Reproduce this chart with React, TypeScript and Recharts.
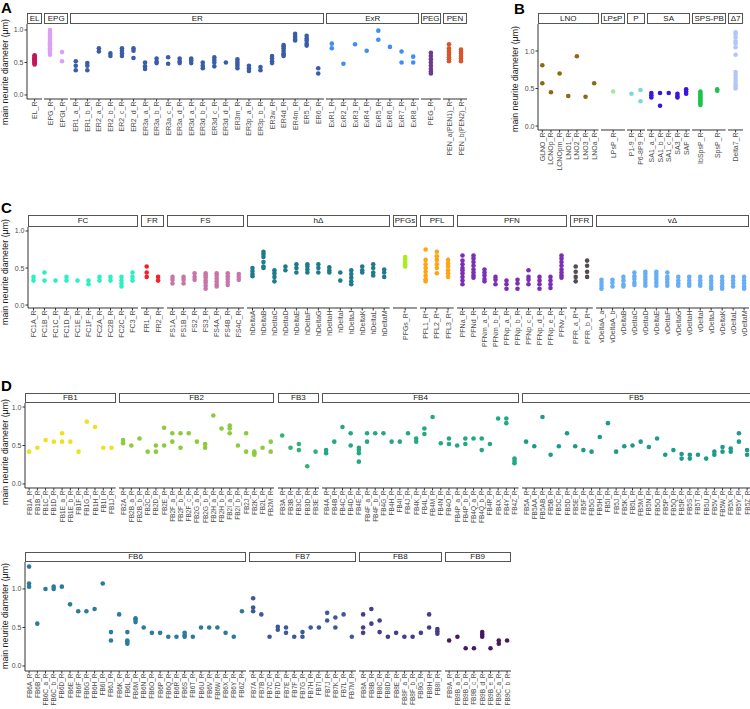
import React from 'react';
import { ScatterChart, Scatter, XAxis, YAxis } from 'recharts';

// ---------------- DATA ----------------
// Panel A
const EL_cats = ['EL_R'];
const EL_vals = [[0.47, 0.49, 0.5, 0.52, 0.53, 0.54, 0.55, 0.56, 0.57, 0.58, 0.6, 0.61]];
const EPG_cats = ['EPG_R', 'EPGt_R'];
const EPG_vals = [[0.62, 0.65, 0.68, 0.7, 0.72, 0.75, 0.78, 0.8, 0.82, 0.85, 0.88, 0.9, 0.93, 0.96, 1.0], [0.66, 0.52]];
const ER_cats = ['ER1_a_R', 'ER1_b_R', 'ER2_a_R', 'ER2_b_R', 'ER2_c_R', 'ER2_d_R', 'ER3a_a_R', 'ER3a_b_R', 'ER3a_c_R', 'ER3a_d_R', 'ER3d_a_R', 'ER3d_b_R', 'ER3d_c_R', 'ER3d_d_R', 'ER3m_R', 'ER3p_a_R', 'ER3p_b_R', 'ER3w_R', 'ER4d_R', 'ER4m_R', 'ER5_R', 'ER6_R'];
const ER_vals = [[0.52, 0.45, 0.38], [0.49, 0.45, 0.38], [0.72, 0.67], [0.64, 0.6], [0.72, 0.68, 0.64, 0.6], [0.72, 0.68, 0.57], [0.5, 0.44, 0.4], [0.56, 0.51, 0.49], [0.58, 0.48], [0.56, 0.52, 0.49], [0.56, 0.53, 0.49], [0.5, 0.45, 0.41], [0.58, 0.54, 0.5, 0.44], [0.5], [0.55, 0.51, 0.48, 0.45, 0.41], [0.45, 0.41, 0.37], [0.43, 0.38], [0.6, 0.56, 0.52, 0.49], [0.77, 0.75, 0.72, 0.68, 0.64, 0.62, 0.6], [0.94, 0.9, 0.86, 0.84], [0.91, 0.87, 0.84, 0.79, 0.76], [0.41, 0.33]];
const ExR_cats = ['ExR1_R', 'ExR2_R', 'ExR3_R', 'ExR4_R', 'ExR5_R', 'ExR6_R', 'ExR7_R', 'ExR8_R'];
const ExR_vals = [[0.79, 0.72], [0.48], [0.78], [0.68], [0.99, 0.85], [0.74], [0.67, 0.5], [0.59, 0.5]];
const PEG_cats = ['PEG_R'];
const PEG_vals = [[0.65, 0.6, 0.55, 0.5, 0.45, 0.4, 0.36, 0.33]];
const PEN_cats = ['PEN_a(PEN1)_R', 'PEN_b(PEN2)_R'];
const PEN_vals = [[0.78, 0.72, 0.68, 0.65, 0.62, 0.58, 0.55, 0.52], [0.7, 0.67, 0.64, 0.6, 0.56, 0.52]];

// Panel B
const LNO_cats = ['GLNO_R', 'LCNOp_R', 'LCNOpm_R', 'LNO1_R', 'LNO2_R', 'LNO3_R', 'LNOa_R'];
const LNO_vals = [[0.81, 0.57], [0.45], [0.7], [0.4], [0.93], [0.39], [0.57]];
const LPsP_cats = ['LPsP_R'];
const LPsP_vals = [[0.46]];
const P_cats = ['P1-9_R', 'P6-8P9_R'];
const P_vals = [[0.43], [0.48, 0.33]];
const SA_cats = ['SA1_a_R', 'SA1_b_R', 'SA1_c_R', 'SA3_R', 'SAF_R'];
const SA_vals = [[0.44, 0.41, 0.38], [0.44, 0.27], [0.44], [0.43, 0.4, 0.38], [0.49, 0.46, 0.43]];
const SPSPB_cats = ['IbSpsP_R', 'SpsP_R'];
const SPSPB_vals = [[0.46, 0.44, 0.42, 0.4, 0.38, 0.36, 0.34, 0.32, 0.3, 0.28], [0.49, 0.47]];
const D7_cats = ['Delta7_R'];
const D7_vals = [[1.25, 1.22, 1.18, 1.13, 1.1, 1.05, 0.95, 0.72, 0.68, 0.64, 0.6, 0.56, 0.53, 0.5]];

// Panel C
const FC_cats = ['FC1A_R', 'FC1B_R', 'FC1C_R', 'FC1D_R', 'FC1E_R', 'FC1F_R', 'FC2A_R', 'FC2B_R', 'FC2C_R', 'FC3_R'];
const FC_vals = [[0.38, 0.33], [0.44, 0.33], [0.33], [0.38, 0.33], [0.33], [0.33, 0.28], [0.38, 0.33], [0.38, 0.33], [0.38, 0.33, 0.29, 0.25], [0.44, 0.38, 0.33]];
const FR_cats = ['FR1_R', 'FR2_R'];
const FR_vals = [[0.52, 0.44, 0.38], [0.38, 0.33]];
const FS_cats = ['FS1A_R', 'FS1B_R', 'FS2_R', 'FS3_R', 'FS4A_R', 'FS4B_R', 'FS4C_R'];
const FS_vals = [[0.38, 0.34, 0.29], [0.38, 0.34, 0.29], [0.43, 0.38, 0.34], [0.43, 0.4, 0.37, 0.33, 0.3, 0.26, 0.22], [0.43, 0.4, 0.36, 0.32, 0.28, 0.25], [0.43, 0.39, 0.35, 0.31, 0.27], [0.42, 0.38, 0.34]];
const hD_cats = ['hDeltaA', 'hDeltaB', 'hDeltaC', 'hDeltaD', 'hDeltaE', 'hDeltaF', 'hDeltaG', 'hDeltaH', 'hDeltaI', 'hDeltaJ', 'hDeltaK', 'hDeltaL', 'hDeltaM'];
const hD_vals = [[0.5, 0.46, 0.42, 0.39], [0.72, 0.69, 0.65, 0.58, 0.52, 0.5], [0.47, 0.43, 0.38, 0.32], [0.52, 0.47], [0.55, 0.5, 0.44], [0.55, 0.52, 0.48, 0.44], [0.55, 0.5, 0.44], [0.51, 0.47, 0.44], [0.44, 0.33], [0.47, 0.42, 0.37, 0.32, 0.28], [0.52, 0.47, 0.44], [0.55, 0.5, 0.44, 0.4], [0.48, 0.44, 0.38]];
const PFGs_cats = ['PFGs_R*'];
const PFGs_vals = [[0.65, 0.62, 0.58, 0.55, 0.52]];
const PFL_cats = ['PFL1_R*', 'PFL2_R*', 'PFL3_R*'];
const PFL_vals = [[0.75, 0.61, 0.55, 0.5, 0.45, 0.4, 0.35, 0.32], [0.72, 0.66, 0.61, 0.55, 0.5, 0.43], [0.61, 0.56, 0.52, 0.47, 0.43, 0.38]];
const PFN_cats = ['PFNa_R', 'PFNd_R', 'PFNm_a_R', 'PFNm_b_R', 'PFNp_a_R', 'PFNp_b_R', 'PFNp_c_R', 'PFNp_d_R', 'PFNp_e_R', 'PFNv_R'];
const PFN_vals = [[0.67, 0.6, 0.55, 0.5, 0.47, 0.43, 0.38, 0.33, 0.28], [0.67, 0.63, 0.58, 0.53, 0.48, 0.44, 0.4, 0.37], [0.48, 0.44, 0.4, 0.35, 0.32], [0.38, 0.34, 0.28], [0.33, 0.28, 0.22], [0.34, 0.29, 0.22], [0.47, 0.38, 0.34, 0.28], [0.38, 0.33, 0.28, 0.22], [0.38, 0.33, 0.28, 0.23], [0.67, 0.63, 0.58, 0.53, 0.48, 0.44, 0.4, 0.37]];
const PFR_cats = ['PFR_a_R*', 'PFR_b_R*'];
const PFR_vals = [[0.52, 0.45, 0.38, 0.32], [0.6, 0.53, 0.45, 0.38]];
const vD_cats = ['vDeltaA_a', 'vDeltaA_b', 'vDeltaB', 'vDeltaC', 'vDeltaD', 'vDeltaE', 'vDeltaF', 'vDeltaG', 'vDeltaH', 'vDeltaI', 'vDeltaJ', 'vDeltaK', 'vDeltaL', 'vDeltaM'];
const vD_vals = [[0.34, 0.3, 0.26, 0.22], [0.34, 0.3, 0.25], [0.38, 0.33, 0.28, 0.25], [0.44, 0.39, 0.35, 0.3, 0.27], [0.45, 0.42, 0.38, 0.34, 0.3, 0.26], [0.45, 0.42, 0.38, 0.34, 0.3, 0.26], [0.44, 0.38, 0.34, 0.3, 0.26], [0.38, 0.33, 0.29, 0.26], [0.38, 0.33, 0.29, 0.26], [0.38, 0.33, 0.29, 0.26], [0.38, 0.33, 0.29, 0.25, 0.22], [0.38, 0.33, 0.29, 0.25, 0.22], [0.38, 0.33, 0.29, 0.25], [0.38, 0.33, 0.29, 0.25, 0.22]];

// Panel D
const FB1_cats = ['FB1A_R', 'FB1B_R', 'FB1C_R', 'FB1D_R', 'FB1E_a_R', 'FB1E_b_R', 'FB1F_R', 'FB1G_R', 'FB1H_R', 'FB1I_R', 'FB1J_R'];
const FB1_vals = [[0.42], [0.47], [0.57], [0.55], [0.66, 0.55], [0.55], [0.42], [0.81], [0.74], [0.47], [0.47]];
const FB2_cats = ['FB2A_R', 'FB2B_a_R', 'FB2B_b_R', 'FB2C_R', 'FB2D_R', 'FB2E_R', 'FB2F_a_R', 'FB2F_b_R', 'FB2F_c_R', 'FB2G_a_R', 'FB2G_b_R', 'FB2H_a_R', 'FB2H_b_R', 'FB2I_a_R', 'FB2I_b_R', 'FB2J_R', 'FB2K_R', 'FB2L_R', 'FB2M_R'];
const FB2_vals = [[0.57, 0.53], [0.5], [0.59], [0.42], [0.5, 0.42], [0.73, 0.5], [0.66, 0.55], [0.66, 0.47], [0.66], [0.55], [0.52, 0.47], [0.89], [0.72], [0.76, 0.72, 0.66], [0.5], [0.66, 0.42], [0.42, 0.4, 0.38], [0.47], [0.55, 0.42]];
const FB3_cats = ['FB3A_R', 'FB3B_R', 'FB3C_R', 'FB3D_R', 'FB3E_R'];
const FB3_vals = [[0.63], [0.47], [0.52, 0.44], [0.23], [0.42]];
const FB4_cats = ['FB4A_R', 'FB4B_R', 'FB4C_R', 'FB4D_R', 'FB4E_R', 'FB4F_a_R', 'FB4F_b_R', 'FB4G_R', 'FB4H_R', 'FB4I_R', 'FB4J_R', 'FB4K_R', 'FB4L_R', 'FB4M_R', 'FB4N_R', 'FB4O_R', 'FB4P_a_R', 'FB4P_b_R', 'FB4Q_a_R', 'FB4Q_b_R', 'FB4R_R', 'FB4X_R', 'FB4Y_R', 'FB4Z_R'];
const FB4_vals = [[0.44, 0.4], [0.55], [0.74], [0.66, 0.5], [0.47, 0.44, 0.4, 0.29], [0.66, 0.55], [0.66], [0.66], [0.55], [0.55], [0.66], [0.59, 0.55], [0.72, 0.65], [0.87], [0.53], [0.59, 0.52], [0.5], [0.59, 0.52], [0.59], [0.59, 0.44], [0.52], [0.85], [0.85, 0.79], [0.33, 0.3, 0.27]];
const FB5_cats = ['FB5A_R', 'FB5AA_R', 'FB5AB_R', 'FB5B_R', 'FB5C_R', 'FB5D_R', 'FB5E_R', 'FB5F_R', 'FB5G_R', 'FB5H_R', 'FB5I_R', 'FB5J_R', 'FB5K_R', 'FB5L_R', 'FB5M_R', 'FB5N_R', 'FB5O_R', 'FB5P_R', 'FB5Q_R', 'FB5R_R', 'FB5S_R', 'FB5T_R', 'FB5U_R', 'FB5V_R', 'FB5W_R', 'FB5X_R', 'FB5Y_R', 'FB5Z_R'];
const FB5_vals = [[0.55], [0.49], [0.87], [0.38], [0.49], [0.66], [0.49], [0.44], [0.42], [0.61], [0.79], [0.42], [0.49], [0.5], [0.55], [0.48], [0.59], [0.38], [0.44], [0.39, 0.33], [0.38, 0.33], [0.38], [0.33], [0.42, 0.38], [0.48, 0.42], [0.46, 0.42], [0.66, 0.55], [0.44, 0.38]];
const FB6_cats = ['FB6A_R', 'FB6B_R', 'FB6C_a_R', 'FB6C_b_R', 'FB6D_R', 'FB6E_R', 'FB6F_R', 'FB6G_R', 'FB6H_R', 'FB6I_R', 'FB6J_R', 'FB6K_R', 'FB6L_R', 'FB6M_R', 'FB6N_R', 'FB6O_R', 'FB6P_R', 'FB6Q_R', 'FB6R_R', 'FB6S_R', 'FB6T_R', 'FB6U_R', 'FB6V_R', 'FB6W_R', 'FB6X_R', 'FB6Y_R', 'FB6Z_R'];
const FB6_vals = [[1.29, 1.07, 1.03], [0.55], [1.0], [1.03, 1.0], [1.03], [0.8], [0.71], [0.71], [0.74], [1.07], [0.44, 0.33], [0.67], [0.44, 0.33, 0.31, 0.29], [0.62, 0.6, 0.57], [0.5], [0.43], [0.43], [0.38], [0.38], [0.43, 0.4, 0.38], [0.38], [0.5], [0.5], [0.5], [0.43], [0.38], [0.71]];
const FB7_cats = ['FB7A_R', 'FB7B_R', 'FB7C_R', 'FB7D_R', 'FB7E_R', 'FB7F_R', 'FB7G_R', 'FB7H_R', 'FB7I_R', 'FB7J_R', 'FB7K_R', 'FB7L_R', 'FB7M_R'];
const FB7_vals = [[0.88, 0.76, 0.71], [0.67], [0.38], [0.51, 0.47], [0.5, 0.43], [0.38], [0.44, 0.38], [0.5], [0.5], [0.69, 0.59], [0.63, 0.5], [0.67], [0.38]];
const FB8_cats = ['FB8A_R', 'FB8B_R', 'FB8C_R', 'FB8D_R', 'FB8E_R', 'FB8F_a_R', 'FB8F_b_R', 'FB8G_R', 'FB8H_R', 'FB8I_R'];
const FB8_vals = [[0.67, 0.5, 0.43], [0.74, 0.55], [0.59, 0.44], [0.38], [0.43], [0.38], [0.38], [0.43], [0.67, 0.5], [0.48, 0.45, 0.42]];
const FB9_cats = ['FB9A_R', 'FB9B_a_R', 'FB9B_b_R', 'FB9B_c_R', 'FB9B_d_R', 'FB9B_e_R', 'FB9C_a_R', 'FB9C_b_R'];
const FB9_vals = [[0.33], [0.38], [0.23], [0.23], [0.44, 0.41, 0.38], [0.23], [0.33, 0.29], [0.33]];

const Y_TICKS = [0, 0.5, 1.0];

// ---------------- STYLE / LAYOUT ----------------
const FONT = '"Liberation Sans", Arial, Helvetica, sans-serif';
const Y_AXIS_W = 18;
const AXIS_COLOR = '#333333';
const TEXT_COLOR = '#4d4d4d';

type Facet = { name: string; cats: string[]; vals: number[][]; color: string };
type RowSpec = {
  key: string;
  letter?: string; letterX?: number; letterTop?: number;
  plotLeft: number; stripTop: number; stripH: number; plotH: number; labelH: number;
  k: number; gap: number; domain: [number, number];
  yLabelX: number; yLabelCY: number; tickFont: number;
  facets: Facet[];
};

const ROWS: RowSpec[] = [
  {
    key: 'A', letter: 'A', letterX: 1, letterTop: 0,
    plotLeft: 27, stripTop: 13, stripH: 11, plotH: 75, labelH: 75, k: 11.5, gap: 2,
    domain: [-0.062, 1.092], yLabelX: 5, yLabelCY: 72, tickFont: 7,
    facets: [
      { name: 'EL', cats: EL_cats, vals: EL_vals, color: '#C2185B' },
      { name: 'EPG', cats: EPG_cats, vals: EPG_vals, color: '#DDA0F0' },
      { name: 'ER', cats: ER_cats, vals: ER_vals, color: '#3A5DA8' },
      { name: 'ExR', cats: ExR_cats, vals: ExR_vals, color: '#3D8EF5' },
      { name: 'PEG', cats: PEG_cats, vals: PEG_vals, color: '#6E3A8E' },
      { name: 'PEN', cats: PEN_cats, vals: PEN_vals, color: '#D9552C' },
    ],
  },
  {
    key: 'B', letter: 'B', letterX: 514, letterTop: 1,
    plotLeft: 538, stripTop: 13, stripH: 11, plotH: 106, labelH: 60, k: 8.5, gap: 2,
    domain: [-0.053, 1.36], yLabelX: 515, yLabelCY: 79, tickFont: 7,
    facets: [
      { name: 'LNO', cats: LNO_cats, vals: LNO_vals, color: '#8B6A14' },
      { name: 'LPsP', cats: LPsP_cats, vals: LPsP_vals, color: '#A4E8A0' },
      { name: 'P', cats: P_cats, vals: P_vals, color: '#7BD8D2' },
      { name: 'SA', cats: SA_cats, vals: SA_vals, color: '#3A14E0' },
      { name: 'SPS-PB', cats: SPSPB_cats, vals: SPSPB_vals, color: '#1EC24C' },
      { name: 'Δ7', cats: D7_cats, vals: D7_vals, color: '#B4C6F8' },
    ],
  },
  {
    key: 'C', letter: 'C', letterX: 1, letterTop: 200,
    plotLeft: 28, stripTop: 215, stripH: 12, plotH: 81, labelH: 45, k: 10.9, gap: 3,
    domain: [-0.04, 1.054], yLabelX: 5, yLabelCY: 272, tickFont: 7,
    facets: [
      { name: 'FC', cats: FC_cats, vals: FC_vals, color: '#2CF0C4' },
      { name: 'FR', cats: FR_cats, vals: FR_vals, color: '#F2222C' },
      { name: 'FS', cats: FS_cats, vals: FS_vals, color: '#C776AA' },
      { name: 'hΔ', cats: hD_cats, vals: hD_vals, color: '#1F7A8E' },
      { name: 'PFGs', cats: PFGs_cats, vals: PFGs_vals, color: '#A8EC1E' },
      { name: 'PFL', cats: PFL_cats, vals: PFL_vals, color: '#FFA514' },
      { name: 'PFN', cats: PFN_cats, vals: PFN_vals, color: '#7B2FB5' },
      { name: 'PFR', cats: PFR_cats, vals: PFR_vals, color: '#544C4E' },
      { name: 'vΔ', cats: vD_cats, vals: vD_vals, color: '#66AEF6' },
    ],
  },
  {
    key: 'D1', letter: 'D', letterX: 1, letterTop: 378,
    plotLeft: 25, stripTop: 393, stripH: 10, plotH: 85, labelH: 45, k: 8.15, gap: 3,
    domain: [-0.052, 1.052], yLabelX: 5, yLabelCY: 452, tickFont: 6.5,
    facets: [
      { name: 'FB1', cats: FB1_cats, vals: FB1_vals, color: '#F0E01E' },
      { name: 'FB2', cats: FB2_cats, vals: FB2_vals, color: '#8CCB3C' },
      { name: 'FB3', cats: FB3_cats, vals: FB3_vals, color: '#32B07A' },
      { name: 'FB4', cats: FB4_cats, vals: FB4_vals, color: '#22A884' },
      { name: 'FB5', cats: FB5_cats, vals: FB5_vals, color: '#1E9A8A' },
    ],
  },
  {
    key: 'D2',
    plotLeft: 25, stripTop: 552, stripH: 10, plotH: 109, labelH: 38, k: 8.15, gap: 3,
    domain: [-0.065, 1.35], yLabelX: 5, yLabelCY: 616, tickFont: 6.5,
    facets: [
      { name: 'FB6', cats: FB6_cats, vals: FB6_vals, color: '#2B7B9B' },
      { name: 'FB7', cats: FB7_cats, vals: FB7_vals, color: '#3C5A9A' },
      { name: 'FB8', cats: FB8_cats, vals: FB8_vals, color: '#433D8A' },
      { name: 'FB9', cats: FB9_cats, vals: FB9_vals, color: '#461A5B' },
    ],
  },
];

function facetWidth(f: Facet, k: number) {
  return Math.max(k * f.cats.length + 1, f.name.length * 4.6 + 6);
}

function facetPoints(f: Facet) {
  return f.cats.flatMap((c, i) => f.vals[i].map((v) => ({ x: c, y: v })));
}

const XTick = (props: any) => {
  const { x, y, payload, fs } = props;
  return (
    <text
      x={x}
      y={y - 2}
      transform={`rotate(-90, ${x}, ${y - 2})`}
      textAnchor="end"
      dominantBaseline="central"
      fontSize={fs}
      fill={TEXT_COLOR}
      fontFamily={FONT}
    >
      {payload.value}
    </text>
  );
};

const YTick = (props: any) => {
  const { x, y, payload } = props;
  return (
    <text x={x} y={y} textAnchor="end" dominantBaseline="central" fontSize={7} fill={TEXT_COLOR} fontFamily={FONT}>
      {Number(payload.value).toFixed(1)}
    </text>
  );
};

function FacetChart({ f, w, spec, id }: { f: Facet; w: number; spec: RowSpec; id: string }) {
  const pts = facetPoints(f);
  const color = f.color;
  return (
    <ScatterChart
      id={id}
      width={w}
      height={spec.plotH + spec.labelH}
      margin={{ top: 0, right: 0, bottom: 0, left: 0 }}
    >
      <XAxis
        type="category"
        dataKey="x"
        allowDuplicatedCategory={false}
        interval={0}
        height={spec.labelH}
        tickSize={2.5}
        axisLine={{ stroke: AXIS_COLOR }}
        tickLine={{ stroke: AXIS_COLOR }}
        tick={(p: any) => <XTick {...p} fs={spec.tickFont} />}
      />
      <YAxis type="number" dataKey="y" domain={spec.domain} ticks={Y_TICKS} allowDataOverflow hide />
      <Scatter
        data={pts}
        isAnimationActive={false}
        shape={(p: any) => <circle cx={p.cx} cy={p.cy} r={2.3} fill={color} />}
      />
    </ScatterChart>
  );
}

function AxisChart({ spec, id }: { spec: RowSpec; id: string }) {
  const pts = facetPoints(spec.facets[0]);
  return (
    <ScatterChart
      id={id}
      width={Y_AXIS_W + 1}
      height={spec.plotH + spec.labelH}
      margin={{ top: 0, right: 0, bottom: 0, left: 0 }}
    >
      <XAxis type="category" dataKey="x" allowDuplicatedCategory={false} height={spec.labelH} tick={false} axisLine={false} tickLine={false} />
      <YAxis
        type="number"
        dataKey="y"
        domain={spec.domain}
        ticks={Y_TICKS}
        interval={0}
        allowDataOverflow
        width={Y_AXIS_W}
        tickSize={2.5}
        tickMargin={1}
        axisLine={{ stroke: AXIS_COLOR }}
        tickLine={{ stroke: AXIS_COLOR }}
        tick={(p: any) => <YTick {...p} />}
      />
      <Scatter data={pts} isAnimationActive={false} shape={() => <g />} />
    </ScatterChart>
  );
}

function layoutRow(spec: RowSpec) {
  let x = spec.plotLeft;
  return spec.facets.map((f) => {
    const w = facetWidth(f, spec.k);
    const left = x;
    x += w + spec.gap;
    return { f, w, left };
  });
}

function Row({ spec, rowIndex }: { spec: RowSpec; rowIndex: number }) {
  const items = layoutRow(spec);
  const chartTop = spec.stripTop + spec.stripH;
  return (
    <>
      {spec.letter && (
        <div
          style={{
            position: 'absolute', left: spec.letterX, top: spec.letterTop,
            fontSize: 15, lineHeight: '15px', fontWeight: 'bold', fontFamily: FONT, color: '#000',
          }}
        >
          {spec.letter}
        </div>
      )}
      <div style={{ position: 'absolute', left: spec.yLabelX, top: spec.yLabelCY, width: 0, height: 0 }}>
        <div
          style={{
            position: 'absolute', left: 0, top: 0,
            transform: 'translate(-50%, -50%) rotate(-90deg)', whiteSpace: 'nowrap',
            fontSize: 8.8, fontFamily: FONT, color: '#1a1a1a', lineHeight: '10px',
          }}
        >
          main neurite diameter (μm)
        </div>
      </div>
      {items.map(({ f, w, left }) => (
        <div
          key={spec.key + f.name + 'strip'}
          style={{
            position: 'absolute', left, top: spec.stripTop, width: w, height: spec.stripH,
            border: '1px solid #555', boxSizing: 'border-box', background: '#fff',
            fontSize: 8, lineHeight: `${spec.stripH - 2}px`, textAlign: 'center',
            whiteSpace: 'nowrap', color: '#1a1a1a', fontFamily: FONT,
          }}
        >
          {f.name}
        </div>
      ))}
      {items.map(({ f, w, left }, i) => (
        <div key={spec.key + f.name + 'chart'} style={{ position: 'absolute', left, top: chartTop }}>
          <FacetChart f={f} w={w} spec={spec} id={`facet-${rowIndex}-${i}`} />
        </div>
      ))}
      <div style={{ position: 'absolute', left: spec.plotLeft - Y_AXIS_W, top: chartTop }}>
        <AxisChart spec={spec} id={`axis-${rowIndex}`} />
      </div>
    </>
  );
}

export default function App() {
  return (
    <div
      style={{
        position: 'absolute', left: 0, top: 0, width: 750, height: 709,
        background: '#fff', overflow: 'hidden', fontFamily: FONT,
      }}
    >
      {ROWS.map((r, i) => (
        <Row key={r.key} spec={r} rowIndex={i} />
      ))}
    </div>
  );
}
